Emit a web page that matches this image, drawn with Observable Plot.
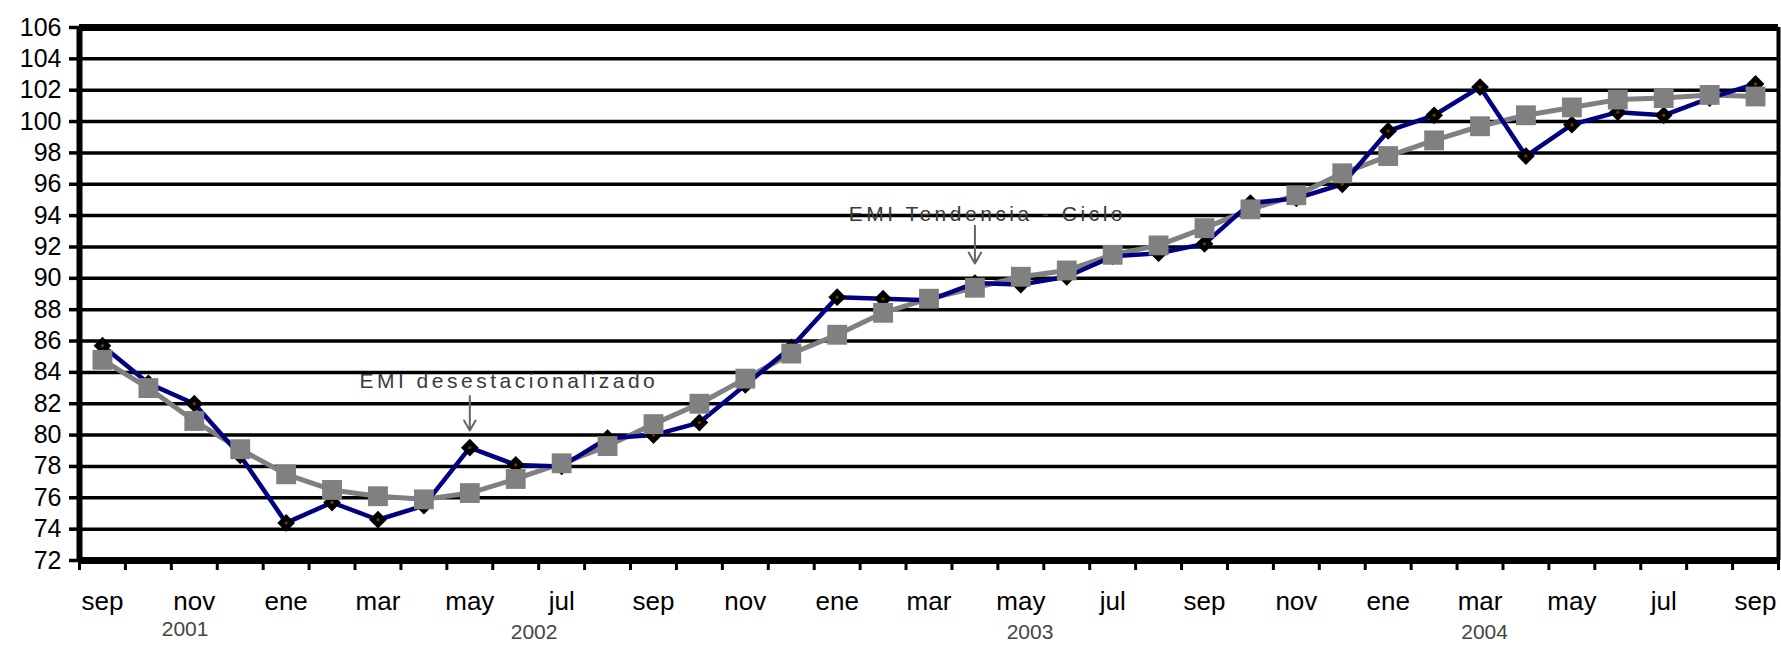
<!DOCTYPE html>
<html>
<head>
<meta charset="utf-8">
<script src="https://cdn.jsdelivr.net/npm/d3@7"></script>
<script src="https://cdn.jsdelivr.net/npm/@observablehq/plot@0.6"></script>
<style>
  html, body { margin: 0; padding: 0; background: #fff; overflow: hidden; }
</style>
</head>
<body>
<div id="chart"></div>
<script>
// Month categories, Sep 2001 – Sep 2004
const months = ["sep","oct","nov","dic","ene","feb","mar","abr","may","jun","jul","ago",
                "sep","oct","nov","dic","ene","feb","mar","abr","may","jun","jul","ago",
                "sep","oct","nov","dic","ene","feb","mar","abr","may","jun","jul","ago","sep"];

// EMI desestacionalizado (blue line, black diamonds)
const desest = [85.7, 83.3, 82.0, 78.7, 74.4, 75.7, 74.6, 75.5, 79.2, 78.1, 78.0, 79.8,
                80.0, 80.8, 83.2, 85.6, 88.8, 88.7, 88.6, 89.7, 89.6, 90.1, 91.4, 91.6,
                92.2, 94.8, 95.1, 96.0, 99.4, 100.4, 102.2, 97.8, 99.8, 100.6, 100.4, 101.5, 102.4];

// EMI Tendencia - Ciclo (gray line, gray squares)
const tendencia = [84.8, 83.0, 80.9, 79.1, 77.5, 76.5, 76.1, 75.9, 76.3, 77.2, 78.2, 79.3,
                   80.7, 82.0, 83.6, 85.2, 86.4, 87.8, 88.7, 89.4, 90.1, 90.5, 91.5, 92.1,
                   93.2, 94.4, 95.3, 96.7, 97.8, 98.8, 99.7, 100.4, 100.9, 101.4, 101.5, 101.7, 101.6];

// Y tick labels
const yTicks = [72, 74, 76, 78, 80, 82, 84, 86, 88, 90, 92, 94, 96, 98, 100, 102, 104, 106];

// Year labels and the category position they sit under
const years = ["2001", "2002", "2003", "2004"];
const yearAt = [1.8, 9.4, 20.2, 30.1];

// Annotation labels (label, anchor category, text value, arrow from/to values)
const annotLabels = ["EMI desestacionalizado", "EMI Tendencia - Ciclo"];
const annotTextX = [8.85, 19.27];
const annotTextY = [83.45, 94.1];
const annotArrowX = [8, 19];
const annotArrowFrom = [82.5, 93.35];
const annotArrowTo = [80.3, 90.95];

const idx = months.map((m, i) => i);
const boundaries = d3.range(months.length + 1).map(i => i - 0.5);
const labelTicks = idx.filter(i => i % 2 === 0);
const annots = annotLabels.map((label, i) => ({
  label, tx: annotTextX[i], ty: annotTextY[i],
  ax: annotArrowX[i], a1: annotArrowFrom[i], a2: annotArrowTo[i]
}));
const yearData = years.map((y, i) => ({year: y, x: yearAt[i]}));

const font = "'Liberation Sans', Arial, Helvetica, sans-serif";

const chart = Plot.plot({
  width: 1781,
  height: 647,
  marginLeft: 79,
  marginRight: 3,
  marginTop: 27,
  marginBottom: 87,
  style: { fontFamily: font, background: "#fff", color: "#000" },
  x: { domain: [-0.5, months.length - 0.5], axis: null },
  y: { domain: [72, 106], axis: null },
  marks: [
    Plot.gridY(yTicks, { stroke: "#000", strokeOpacity: 1, strokeWidth: 3.5 }),
    Plot.axisY(yTicks, { tickSize: 10, tickPadding: 8, stroke: "#000", strokeWidth: 3.5,
                         fontSize: 25, fill: "#000", tickFormat: d => String(d) }),
    Plot.ruleY([72], { stroke: "#000", strokeWidth: 7 }),
    Plot.ruleY([106], { stroke: "#000", strokeWidth: 7 }),
    Plot.ruleX([boundaries[0]], { stroke: "#000", strokeWidth: 6 }),
    Plot.ruleX([boundaries[boundaries.length - 1]], { stroke: "#000", strokeWidth: 4 }),
    Plot.axisX(boundaries, { tickSize: 10, stroke: "#000", strokeWidth: 3, tickFormat: () => "" }),
    Plot.axisX(labelTicks, { tickSize: 0, tickPadding: 31, fontSize: 26, fill: "#000",
                             tickFormat: i => months[i] }),
    Plot.text(yearData.slice(0, 1), { x: "x", text: "year", frameAnchor: "bottom", dy: 75,
                                      fontSize: 21, fill: "#444" }),
    Plot.text(yearData.slice(1), { x: "x", text: "year", frameAnchor: "bottom", dy: 78,
                                   fontSize: 21, fill: "#444" }),
    Plot.line(tendencia, { x: (d, i) => i, y: d => d, stroke: "#808080", strokeWidth: 5 }),
    Plot.line(desest, { x: (d, i) => i, y: d => d, stroke: "#000080", strokeWidth: 4.5 }),
    Plot.dot(desest, { x: (d, i) => i, y: d => d, symbol: "diamond2", r: 8, fill: "#000", stroke: "none" }),
    Plot.dot(desest, { x: (d, i) => i, y: d => d, r: 1.7, fill: "#6b3300", stroke: "none" }),
    Plot.dot(tendencia, { x: (d, i) => i, y: d => d, symbol: "square", r: 11.2, fill: "#808080", stroke: "none" }),
    Plot.arrow(annots, { x1: "ax", y1: "a1", x2: "ax", y2: "a2", stroke: "#666", strokeWidth: 2,
                         headLength: 11 }),
    Plot.text(annots, { x: "tx", y: "ty", text: "label", fontSize: 21, fill: "#3a3a3a" })
  ]
});

d3.select(chart).selectAll("text")
  .filter(function () { return annotLabels.includes(this.textContent); })
  .attr("letter-spacing", "3.5px");

document.getElementById("chart").appendChild(chart);
</script>
</body>
</html>
